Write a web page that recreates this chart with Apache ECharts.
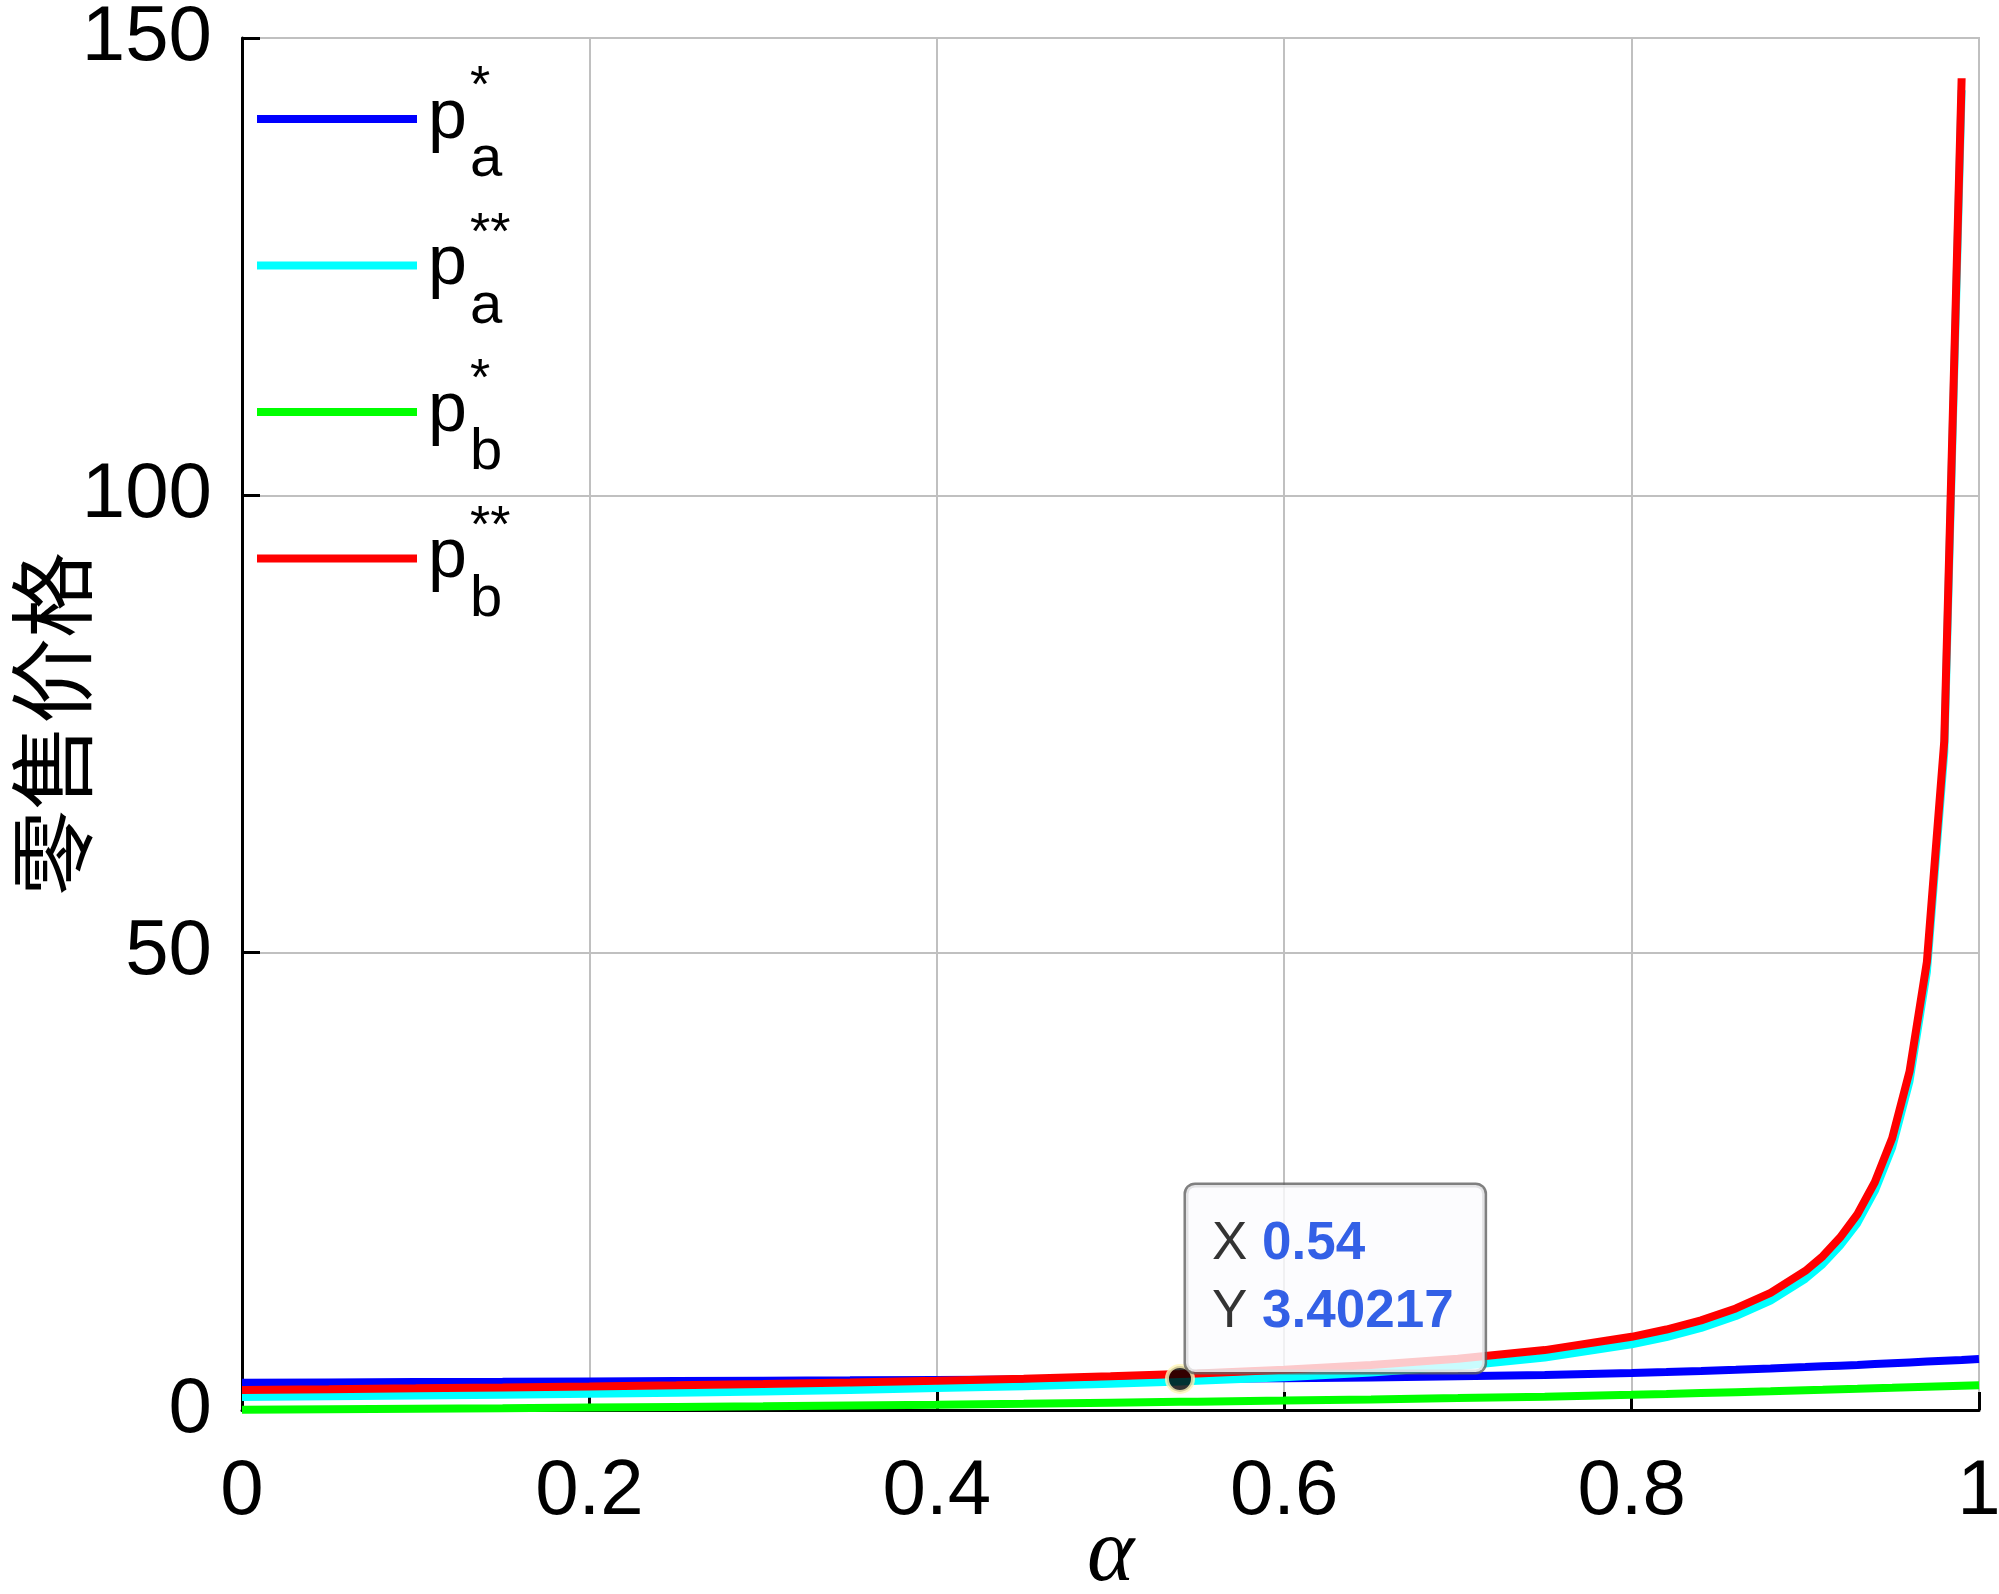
<!DOCTYPE html>
<html>
<head>
<meta charset="utf-8">
<script src="https://cdn.jsdelivr.net/npm/echarts@6/dist/echarts.min.js"></script>
<style>
  html, body { margin: 0; padding: 0; background: #fff; }
  #chart { width: 1999px; height: 1594px; }
</style>
</head>
<body>
<div id="chart"></div>
<script>
// alpha grid (last value 1 only used by the p_a*, p_b* curves)
const alpha = [0, 0.05, 0.1, 0.15, 0.2, 0.25, 0.3, 0.35, 0.4, 0.45, 0.5, 0.54, 0.55, 0.6, 0.65, 0.7, 0.75, 0.8,
  0.82, 0.84, 0.86, 0.88, 0.9, 0.91, 0.92, 0.93, 0.94, 0.95, 0.96, 0.97, 0.98, 0.99, 1];

const paStar = [2.99, 3.02, 3.05, 3.08, 3.12, 3.16, 3.20, 3.24, 3.29, 3.33, 3.37, 3.40, 3.41, 3.47, 3.56, 3.68, 3.84, 4.05,
  4.15, 4.27, 4.40, 4.54, 4.69, 4.77, 4.85, 4.93, 5.02, 5.11, 5.20, 5.29, 5.38, 5.47, 5.57];
const paStar2 = [1.42, 1.50, 1.58, 1.67, 1.77, 1.89, 2.03, 2.20, 2.40, 2.61, 2.88, 3.12, 3.19, 3.58, 4.10, 4.78, 5.74, 7.18,
  7.98, 8.98, 10.28, 11.97, 14.35, 15.95, 17.98, 20.45, 23.95, 28.7, 35.95, 47.9, 71.9, 144.3];
const pbStar = [0.02, 0.08, 0.14, 0.20, 0.27, 0.34, 0.41, 0.49, 0.57, 0.68, 0.80, 0.89, 0.91, 1.03, 1.16, 1.30, 1.46, 1.66,
  1.75, 1.85, 1.95, 2.05, 2.16, 2.21, 2.27, 2.32, 2.38, 2.43, 2.49, 2.55, 2.60, 2.65, 2.70];
const pbStar2 = [2.20, 2.28, 2.37, 2.47, 2.58, 2.70, 2.84, 3.01, 3.20, 3.41, 3.68, 3.93, 4.00, 4.40, 4.92, 5.60, 6.55, 8.00,
  8.80, 9.80, 11.10, 12.80, 15.20, 16.80, 18.85, 21.40, 24.90, 29.70, 37.00, 49.00, 73.10, 145.60];

const seriesNames = ['pa*', 'pa**', 'pb*', 'pb**'];
const seriesColors = ['#0000ff', '#00ffff', '#00ff00', '#ff0000'];
const legendSub = ['a', 'a', 'b', 'b'];
const legendSup = ['*', '**', '*', '**'];

const xTicks = [0, 0.2, 0.4, 0.6, 0.8, 1];
const yTicks = [0, 50, 100, 150];

const tipPoint = [0.54, 3.40217];

const sans = "'Liberation Sans', Arial, Helvetica, sans-serif";

function pairs(ys) {
  return ys.map((y, i) => [alpha[i], y]);
}

const chart = echarts.init(document.getElementById('chart'));

const lineData = [paStar, paStar2, pbStar, pbStar2];
const series = lineData.map((ys, i) => ({
  name: seriesNames[i],
  type: 'line',
  data: pairs(ys),
  symbol: 'none',
  showSymbol: false,
  lineStyle: {color: seriesColors[i], width: 8},
  itemStyle: {color: seriesColors[i]},
  z: 2 + i
}));

// data tip at the picked point
series.push({
  name: 'tip',
  type: 'scatter',
  data: [tipPoint],
  symbolSize: 26,
  silent: true,
  z: 20,
  itemStyle: {color: '#000', borderColor: '#fff6b8', borderWidth: 4},
  label: {
    show: true,
    position: [21, -179],
    formatter: '{k|X} {v|' + tipPoint[0] + '}\n{k|Y} {v|' + tipPoint[1] + '}',
    backgroundColor: '#fbfbfe',
    borderColor: '#606060',
    borderWidth: 2.5,
    borderRadius: 9,
    padding: [26, 31, 25, 26],
    fontSize: 53,
    lineHeight: 68,
    fontFamily: sans,
    color: '#000',
    rich: {
      k: {fontSize: 53, lineHeight: 68, color: '#000', fontFamily: sans},
      v: {fontSize: 53, lineHeight: 68, color: '#0038e0', fontWeight: 'bold', fontFamily: sans}
    }
  }
});

const axisCommon = {
  type: 'value',
  nameMoveOverlap: false,
  axisLine: {show: true, onZero: false, lineStyle: {color: '#000', width: 3}},
  axisTick: {show: true, inside: true, length: 18, lineStyle: {color: '#000', width: 3}},
  splitLine: {show: true, lineStyle: {color: '#c0c0c0', width: 2}}
};

chart.setOption({
  animation: false,
  backgroundColor: '#fff',
  grid: {
    left: 242, right: 20, top: 38, bottom: 184,
    show: true, borderColor: '#c0c0c0', borderWidth: 2,
    containLabel: false,
    outerBoundsMode: 'none'
  },
  legend: {
    orient: 'vertical',
    left: 257,
    top: 62,
    padding: 0,
    itemWidth: 160,
    itemHeight: 8,
    itemGap: 19.5,
    icon: 'rect',
    data: seriesNames,
    selectedMode: false,
    formatter: name => {
      const i = seriesNames.indexOf(name);
      return '{e| }{s|' + legendSup[i] + '}\n{p|p}\n{f| }{b|' + legendSub[i] + '}';
    },
    textStyle: {
      color: '#000',
      fontFamily: sans,
      padding: [21, 0, 0, 6],
      rich: {
        e: {width: 42, fontSize: 10, lineHeight: 31},
        s: {fontSize: 52, lineHeight: 31, color: '#000', fontFamily: sans},
        p: {fontSize: 70, lineHeight: 30, color: '#000', fontFamily: sans},
        f: {width: 42, fontSize: 10, lineHeight: 53},
        b: {fontSize: 58, lineHeight: 53, color: '#000', fontFamily: sans}
      }
    }
  },
  xAxis: Object.assign({}, axisCommon, {
    min: xTicks[0],
    max: xTicks[xTicks.length - 1],
    interval: xTicks[1] - xTicks[0],
    axisLabel: {fontSize: 78, color: '#000', fontFamily: sans, margin: 43},
    name: 'α',
    nameLocation: 'middle',
    nameGap: 101,
    nameTextStyle: {fontFamily: "'Liberation Serif', 'DejaVu Serif', serif", fontStyle: 'italic', fontSize: 90, color: '#000'}
  }),
  yAxis: Object.assign({}, axisCommon, {
    min: yTicks[0],
    max: yTicks[yTicks.length - 1],
    interval: yTicks[1] - yTicks[0],
    axisLabel: {fontSize: 78, color: '#000', fontFamily: sans, margin: 30},
    name: '零售价格',
    nameLocation: 'middle',
    nameRotate: 90,
    nameGap: 147,
    nameTextStyle: {fontFamily: "'Noto Sans CJK SC', sans-serif", fontSize: 86, color: '#000'}
  }),
  series: series
});
</script>
</body>
</html>
